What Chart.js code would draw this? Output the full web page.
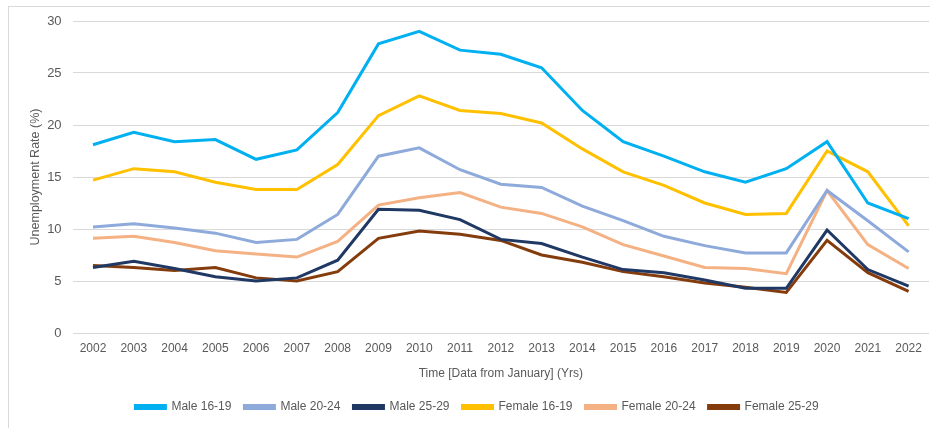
<!DOCTYPE html>
<html>
<head>
<meta charset="utf-8">
<script src="https://cdn.jsdelivr.net/npm/chart.js@4"></script>
<style>
  html, body { margin: 0; padding: 0; background: #fff; }
  #frame {
    position: absolute; left: 8px; top: 6px; width: 930px; height: 430px;
    border-left: 1px solid #d9d9d9; border-top: 1px solid #d9d9d9;
  }
  #wrap { position: absolute; left: 0; top: 0; width: 921px; height: 421px; }
</style>
</head>
<body>
<div id="frame"><div id="wrap"><canvas id="chart_div"></canvas></div></div>
<script>
// Years on the x-axis
const years = ['2002','2003','2004','2005','2006','2007','2008','2009','2010','2011','2012',
               '2013','2014','2015','2016','2017','2018','2019','2020','2021','2022'];

// Unemployment rate (%) per group
const male1619   = [18.1, 19.3, 18.4, 18.6, 16.7, 17.6, 21.2, 27.8, 29.0, 27.2, 26.8, 25.5, 21.4, 18.4, 17.0, 15.5, 14.5, 15.8, 18.4, 12.5, 11.0];
const male2024   = [10.2, 10.5, 10.1, 9.6, 8.7, 9.0, 11.4, 17.0, 17.8, 15.7, 14.3, 14.0, 12.2, 10.8, 9.3, 8.4, 7.7, 7.7, 13.7, 10.8, 7.8];
const male2529   = [6.3, 6.9, 6.2, 5.4, 5.0, 5.3, 7.0, 11.9, 11.8, 10.9, 9.0, 8.6, 7.3, 6.1, 5.8, 5.1, 4.3, 4.3, 9.9, 6.1, 4.5];
const female1619 = [14.7, 15.8, 15.5, 14.5, 13.8, 13.8, 16.2, 20.9, 22.8, 21.4, 21.1, 20.2, 17.7, 15.5, 14.2, 12.5, 11.4, 11.5, 17.5, 15.5, 10.3];
const female2024 = [9.1, 9.3, 8.7, 7.9, 7.6, 7.3, 8.8, 12.3, 13.0, 13.5, 12.1, 11.5, 10.2, 8.5, 7.4, 6.3, 6.2, 5.7, 13.7, 8.5, 6.2];
const female2529 = [6.5, 6.3, 6.0, 6.3, 5.3, 5.0, 5.9, 9.1, 9.8, 9.5, 8.9, 7.5, 6.8, 5.9, 5.4, 4.8, 4.4, 3.9, 8.9, 5.8, 4.0];

const yTicks = [0, 5, 10, 15, 20, 25, 30];

function line(label, data, color) {
  return {
    label: label,
    data: data,
    borderColor: color,
    backgroundColor: color,
    borderWidth: 3,
    pointRadius: 0,
    tension: 0,
    fill: false
  };
}

const txt = '#595959';
const ctx = document.getElementById('chart_div').getContext('2d');
new Chart(ctx, {
  type: 'line',
  data: {
    labels: years,
    datasets: [
      line('Male 16-19', male1619, '#00b0f0'),
      line('Male 20-24', male2024, '#8eaadb'),
      line('Male 25-29', male2529, '#203864'),
      line('Female 16-19', female1619, '#ffc000'),
      line('Female 20-24', female2024, '#f4b183'),
      line('Female 25-29', female2529, '#843c0c')
    ]
  },
  options: {
    responsive: true,
    maintainAspectRatio: false,
    animation: false,
    layout: { padding: { top: 14, right: 1, bottom: 5, left: 16 } },
    plugins: {
      tooltip: { enabled: false },
      legend: {
        position: 'bottom',
        labels: {
          boxWidth: 30,
          boxHeight: 3,
          padding: 13,
          color: txt,
          font: { family: 'Liberation Sans', size: 12 }
        }
      }
    },
    scales: {
      x: {
        offset: true,
        afterFit: (scale) => { scale.height = 55; },
        grid: { display: false, drawTicks: false },
        border: { display: false },
        ticks: { color: txt, font: { family: 'Liberation Sans', size: 12 }, maxRotation: 0, autoSkip: false, padding: 8 },
        title: {
          display: true,
          text: 'Time [Data from January] (Yrs)',
          color: txt,
          font: { family: 'Liberation Sans', size: 12 },
          padding: { top: 0, bottom: 7 }
        }
      },
      y: {
        min: 0,
        max: 30,
        afterBuildTicks: (scale) => { scale.ticks = yTicks.map(v => ({ value: v })); },
        afterFit: (scale) => { scale.width = 47.6; scale.paddingTop = 0; },
        grid: { color: '#d9d9d9', lineWidth: 1, drawTicks: false },
        border: { display: false },
        ticks: { color: txt, font: { family: 'Liberation Sans', size: 13 }, padding: 11 },
        title: {
          display: true,
          text: 'Unemployment Rate (%)',
          color: txt,
          font: { family: 'Liberation Sans', size: 12.5 },
          padding: { top: 3, bottom: 0 }
        }
      }
    }
  }
});
</script>
</body>
</html>
